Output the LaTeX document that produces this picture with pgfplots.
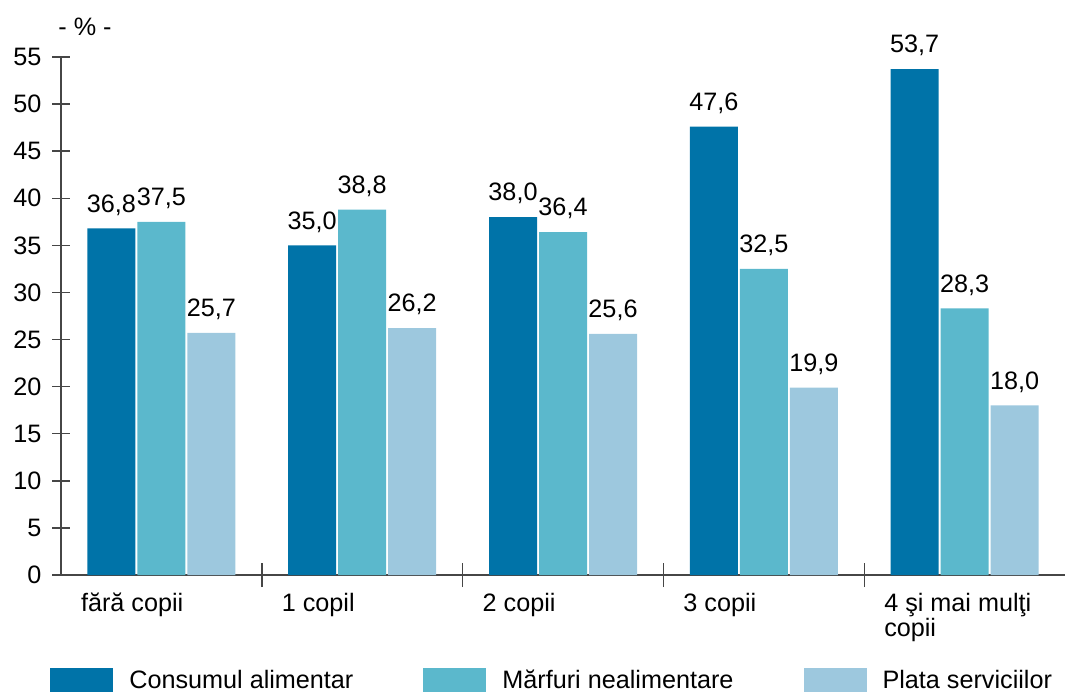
\documentclass[border=0pt]{standalone}
\usepackage{fontspec}
\setmainfont{Liberation Sans}
\usepackage{pgfplots}
\pgfplotsset{compat=1.18}
\definecolor{c1}{RGB}{0,115,168}
\definecolor{c2}{RGB}{91,184,204}
\definecolor{c3}{RGB}{157,200,222}
\definecolor{axc}{RGB}{70,70,70}
\begin{document}
\begin{tikzpicture}
\begin{axis}[
  name=ax,
  scale only axis,
  width=502pt, height=259pt,
  xmin=-0.5, xmax=4.5, ymin=0, ymax=55,
  axis x line*=bottom, axis y line*=left,
  axis line style={-, axc, line width=0.7pt},
  every tick/.style={axc, line width=0.7pt},
  tick align=center,
  ytick={0,5,...,55},
  y tick label style={font=\fontsize{12.6}{14}\selectfont, xshift=-2pt},
  major tick length=8.5pt,
  xtick={-0.5,0.5,1.5,2.5,3.5},
  xticklabels={fără copii,1 copil,2 copii,3 copii,{4 şi mai mulţi\\copii}},
  xtick style={draw=none},
  xticklabel style={anchor=north west, xshift=6.5pt, yshift=3pt, align=left,
       font=\fontsize{12.6}{12.4}\selectfont},
  extra x ticks={0.5,1.5,2.5,3.5},
  extra x tick labels={},
  extra x tick style={major tick length=12pt, tick align=center, xtick style={draw=axc}},
  /pgf/number format/assume math mode=true,
  ybar,
  bar width=0.239,
  nodes near coords,
  every node near coord/.append style={font=\fontsize{12.6}{14}\selectfont, black, yshift=3pt,
     /pgf/number format/.cd, fixed, fixed zerofill, precision=1, use comma},
  legend style={draw=none, fill=none, inner sep=0pt, at={(-0.011,-0.175)}, anchor=north west,
     font=\fontsize{12.6}{14}\selectfont,
     /tikz/every even column/.append style={column sep=33pt},
     /tikz/every odd column/.append style={column sep=6pt}},
  legend columns=3,
  legend image code/.code={\fill[#1] (0pt,-6.5pt) rectangle (31.5pt,6.5pt);},
  clip=false,
]
\addplot[fill=c1, draw=none, bar shift=-0.249] coordinates {(0,36.8) (1,35.0) (2,38.0) (3,47.6) (4,53.7)};
\addlegendentry{Consumul alimentar}
\addplot[fill=c2, draw=none, bar shift=0] coordinates {(0,37.5) (1,38.8) (2,36.4) (3,32.5) (4,28.3)};
\addlegendentry{Mărfuri nealimentare}
\addplot[fill=c3, draw=none, bar shift=0.249] coordinates {(0,25.7) (1,26.2) (2,25.6) (3,19.9) (4,18.0)};
\addlegendentry{Plata serviciilor}
\end{axis}
\node[anchor=west, font=\fontsize{12.6}{14}\selectfont, inner sep=0pt] at ([xshift=-1.5pt, yshift=274pt]ax.south west) {- \% -};
\pgfresetboundingbox
\path ([xshift=-30.5pt, yshift=-58pt]ax.south west) rectangle ([xshift=502pt, yshift=287.5pt]ax.south west);
\end{tikzpicture}
\end{document}
